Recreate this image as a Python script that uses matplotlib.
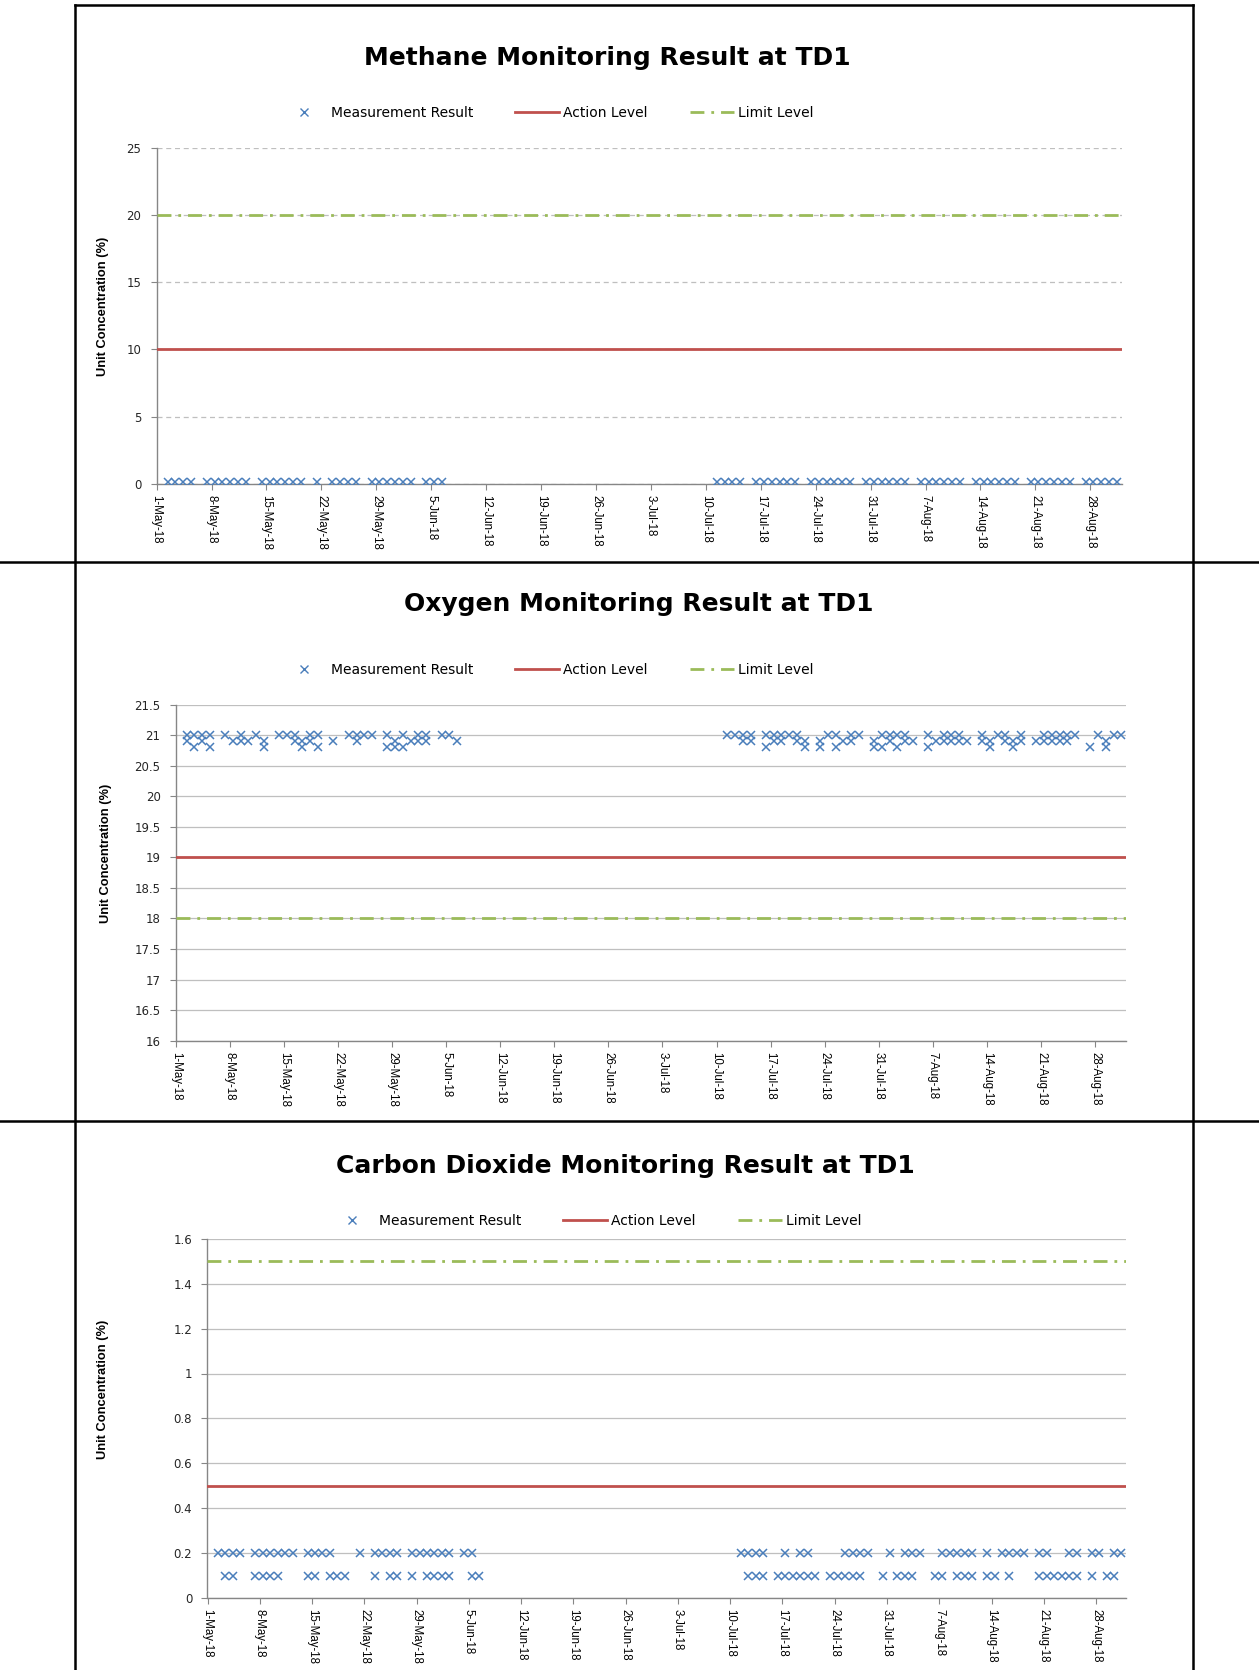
import pandas as pd
import matplotlib
matplotlib.use('Agg')
import matplotlib.pyplot as plt
from matplotlib import font_manager
from matplotlib.lines import Line2D

# fontes
nomes = {f.name for f in font_manager.fontManager.ttflist}
narrow = 'Liberation Sans Narrow' if 'Liberation Sans Narrow' in nomes else 'Liberation Sans'

# dados (dias de leitura, hora aproximada da medição 09:30)
reading_time = '09:30'

ch4_dates = ['05-02', '05-03', '05-04', '05-05', '05-07', '05-08', '05-09', '05-10', '05-11', '05-12',
             '05-14', '05-15', '05-16', '05-17', '05-18', '05-19', '05-21', '05-23', '05-24', '05-25',
             '05-26', '05-28', '05-29', '05-30', '05-31', '06-01', '06-02', '06-04', '06-05', '06-06',
             '07-11', '07-12', '07-13', '07-14', '07-16', '07-17', '07-18', '07-19', '07-20', '07-21',
             '07-23', '07-24', '07-25', '07-26', '07-27', '07-28', '07-30', '07-31', '08-01', '08-02',
             '08-03', '08-04', '08-06', '08-07', '08-08', '08-09', '08-10', '08-11', '08-13', '08-14',
             '08-15', '08-16', '08-17', '08-18', '08-20', '08-21', '08-22', '08-23', '08-24', '08-25',
             '08-27', '08-28', '08-29', '08-30', '08-31']
ch4_value = 0.1

o2_21_0 = ['05-02', '05-03', '05-04', '05-05', '05-07', '05-09', '05-11', '05-14', '05-15', '05-16',
           '05-18', '05-19', '05-23', '05-24', '05-25', '05-26', '05-28', '05-30', '06-01', '06-02',
           '06-04', '06-05',
           '07-11', '07-12', '07-13', '07-14', '07-16', '07-17', '07-18', '07-19', '07-20', '07-24',
           '07-25', '07-27', '07-28', '07-31', '08-01', '08-02', '08-03', '08-06', '08-08', '08-09',
           '08-10', '08-13', '08-15', '08-16', '08-18', '08-21', '08-22', '08-23', '08-24', '08-25',
           '08-28', '08-30', '08-31']
o2_20_9 = ['05-02', '05-04', '05-08', '05-09', '05-10', '05-12', '05-16', '05-17', '05-18', '05-21',
           '05-24', '05-29', '05-31', '06-01', '06-02', '06-06',
           '07-13', '07-14', '07-17', '07-18', '07-20', '07-21', '07-23', '07-26', '07-27', '07-30',
           '08-01', '08-03', '08-04', '08-07', '08-08', '08-09', '08-10', '08-11', '08-13', '08-14',
           '08-16', '08-17', '08-18', '08-20', '08-21', '08-22', '08-23', '08-24', '08-29']
o2_20_8 = ['05-03', '05-05', '05-12', '05-17', '05-19', '05-28', '05-29', '05-30',
           '07-16', '07-21', '07-23', '07-25', '07-30', '07-31', '08-02', '08-06', '08-14', '08-17',
           '08-27', '08-29']

co2_0_2 = ['05-02', '05-03', '05-04', '05-05', '05-07', '05-08', '05-09', '05-10', '05-11', '05-12',
           '05-14', '05-15', '05-16', '05-17', '05-21', '05-23', '05-24', '05-25', '05-26', '05-28',
           '05-29', '05-30', '05-31', '06-01', '06-02', '06-04', '06-05',
           '07-11', '07-12', '07-13', '07-14', '07-17', '07-19', '07-20', '07-25', '07-26', '07-27',
           '07-28', '07-31', '08-02', '08-03', '08-04', '08-07', '08-08', '08-09', '08-10', '08-11',
           '08-13', '08-15', '08-16', '08-17', '08-18', '08-20', '08-21', '08-24', '08-25', '08-27',
           '08-28', '08-30', '08-31']
co2_0_1 = ['05-03', '05-04', '05-07', '05-08', '05-09', '05-10', '05-14', '05-15', '05-17', '05-18',
           '05-19', '05-23', '05-25', '05-26', '05-28', '05-30', '05-31', '06-01', '06-02', '06-05',
           '06-06',
           '07-12', '07-13', '07-14', '07-16', '07-17', '07-18', '07-19', '07-20', '07-21', '07-23',
           '07-24', '07-25', '07-26', '07-27', '07-30', '08-01', '08-02', '08-03', '08-06', '08-07',
           '08-09', '08-10', '08-11', '08-13', '08-14', '08-16', '08-20', '08-21', '08-22', '08-23',
           '08-24', '08-25', '08-27', '08-29', '08-30']

ch4_action, ch4_limit = 10, 20
o2_action, o2_limit = 19, 18
co2_action, co2_limit = 0.5, 1.5

ch4_yticks = [0, 5, 10, 15, 20, 25]
o2_yticks = [16, 16.5, 17, 17.5, 18, 18.5, 19, 19.5, 20, 20.5, 21, 21.5]
co2_yticks = [0, 0.2, 0.4, 0.6, 0.8, 1, 1.2, 1.4, 1.6]

x_start, x_end = '2018-05-01', '2018-09-01'
tick_dates = pd.date_range('2018-05-01', '2018-08-28', freq='7D')

# cores
azul = '#4A7EBB'
vermelho = '#C0504D'
verde = '#9BBB59'
cinza = '#868686'
traco_ponto = (0, (5, 2.5, 1, 2.5))

W, H = 1259, 1670


def to_dt(lista):
    return pd.to_datetime(['2018-' + d + ' ' + reading_time for d in lista])


def px(x0, y0, x1, y1):
    # converte pixels (origem no topo) para fração da figura
    return [x0 / W, 1 - y1 / H, (x1 - x0) / W, (y1 - y0) / H]


def grafico(fig, caixa, titulo, titulo_xy, legenda_xy, series, acao, limite, yticks, grade_ls, ylabel_xy):
    ax = fig.add_axes(px(*caixa))
    for datas, valor in series:
        d = to_dt(datas)
        ax.plot(d, [valor] * len(d), ls='none', marker='x', ms=6, mew=1.1, color=azul, zorder=4)
    ax.axhline(acao, color=vermelho, lw=2, zorder=3)
    ax.axhline(limite, color=verde, lw=2, ls=traco_ponto, zorder=3)

    ax.set_xlim(pd.Timestamp(x_start), pd.Timestamp(x_end))
    ax.set_ylim(yticks[0], yticks[-1])
    ax.set_yticks(yticks)
    ax.set_yticklabels(['%g' % v for v in yticks], fontsize=8.5, color='#262626', family='DejaVu Sans')
    ax.set_xticks(tick_dates)
    ax.set_xticklabels([f'{d.day}-{d:%b-%y}' for d in tick_dates], rotation=-90,
                       fontsize=8.3, family=narrow, va='top', ha='center')
    ax.tick_params(axis='x', direction='out', length=4, color=cinza, pad=4)
    ax.tick_params(axis='y', direction='out', length=4, color=cinza, pad=7)

    ax.grid(axis='y', color='#BFBFBF', lw=0.9, ls=grade_ls)
    ax.set_axisbelow(True)
    for lado in ['top', 'right']:
        ax.spines[lado].set_visible(False)
    for lado in ['left', 'bottom']:
        ax.spines[lado].set_color(cinza)
        ax.spines[lado].set_linewidth(1)

    fig.text(titulo_xy[0] / W, 1 - titulo_xy[1] / H, titulo, ha='center', va='center',
             fontsize=18, fontweight='bold', family='DejaVu Sans')

    fig.text(ylabel_xy[0] / W, 1 - ylabel_xy[1] / H, 'Unit Concentration (%)', rotation=90,
             ha='center', va='center', fontsize=9.3, fontweight='bold', family=narrow)

    alcas = [Line2D([], [], ls='none', marker='x', ms=6, mew=1.0, color=azul),
             Line2D([], [], color=vermelho, lw=2),
             Line2D([], [], color=verde, lw=2, ls=traco_ponto)]
    fig.legend(alcas, ['Measurement Result', 'Action Level', 'Limit Level'], loc='center',
               bbox_to_anchor=(legenda_xy[0] / W, 1 - legenda_xy[1] / H), ncol=3, frameon=False,
               prop={'family': 'DejaVu Sans', 'size': 10}, handlelength=3.2, handletextpad=0.3,
               columnspacing=3.0)
    return ax


fig = plt.figure(figsize=(W / 100, H / 100), dpi=100)

grafico(fig, (156.6, 148.1, 1121.7, 483.6), 'Methane Monitoring Result at TD1', (607, 57.5), (548, 113),
        [(ch4_dates, ch4_value)], ch4_action, ch4_limit, ch4_yticks, (0, (4, 3)), (103, 306))

grafico(fig, (175.8, 704.6, 1126, 1040.7), 'Oxygen Monitoring Result at TD1', (639, 604), (548, 670),
        [(o2_21_0, 21.0), (o2_20_9, 20.9), (o2_20_8, 20.8)], o2_action, o2_limit, o2_yticks, '-',
        (106.5, 853))

grafico(fig, (207.5, 1238.8, 1126, 1598), 'Carbon Dioxide Monitoring Result at TD1', (625, 1166.4), (596, 1221),
        [(co2_0_2, 0.2), (co2_0_1, 0.1)], co2_action, co2_limit, co2_yticks, '-', (103, 1389))

# linhas da tabela
linhas = [((74.6, 5.3), (74.6, H)), ((1193, 5.3), (1193, H)), ((74.6, 5.3), (1193, 5.3)),
          ((0, 562.4), (W, 562.4)), ((0, 1120.6), (W, 1120.6))]
for (xa, ya), (xb, yb) in linhas:
    fig.add_artist(Line2D([xa / W, xb / W], [1 - ya / H, 1 - yb / H], transform=fig.transFigure,
                          color='black', lw=1.8))

fig.savefig('out.png', dpi=100)
